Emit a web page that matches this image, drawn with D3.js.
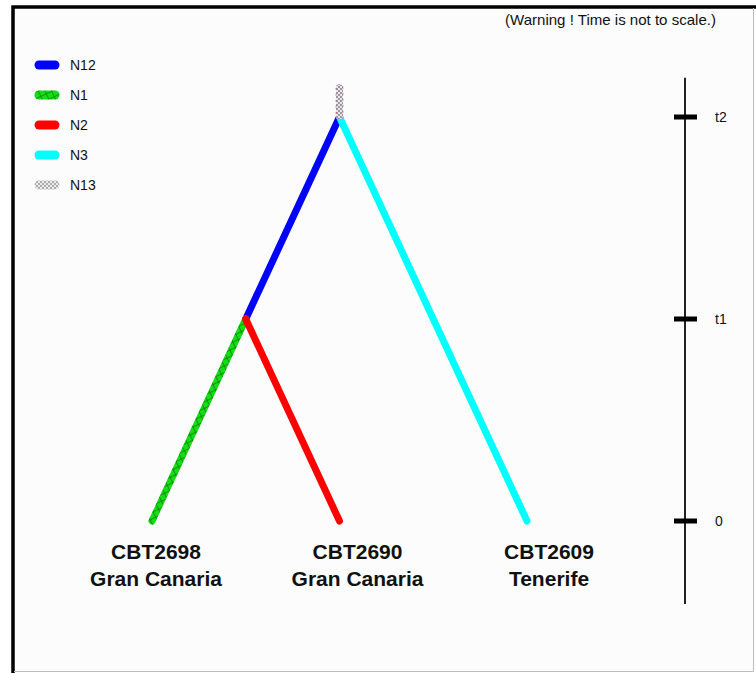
<html>
<head>
    <title>Tree</title>
    <script src="https://cdn.jsdelivr.net/npm/d3@7"></script>
    <style>
        body { margin: 0; background: #fff; }
        text { font-family: "Liberation Sans", Arial, sans-serif; }
    </style>
</head>
<body>
<div id="graph"></div>
<script>
    // data
    const leafNames = ["CBT2698", "CBT2690", "CBT2609"];
    const leafPlaces = ["Gran Canaria", "Gran Canaria", "Tenerife"];
    const branchNames = ["N12", "N1", "N2", "N3", "N13"];
    const branchColors = ["#0000ff", "#00e000", "#ff0000", "#00ffff", "checker"];
    const timeTicks = [0, 1, 2];
    const timeLabels = ["0", "t1", "t2"];
    const rootStubTop = 2.16;
    const warning = "(Warning ! Time is not to scale.)";

    // tree : N13 root -> (N12 -> N1, N2), N3
    const treeData = {
        name: "N13", time: 2, children: [
            {name: "N12", time: 1, children: [
                {name: "N1", time: 0, leaf: 0},
                {name: "N2", time: 0, leaf: 1}
            ]},
            {name: "N3", time: 0, leaf: 2}
        ]
    };

    const width = 756, height = 673;
    const svg = d3.select("#graph").append("svg")
        .attr("width", width).attr("height", height);

    const defs = svg.append("defs");
    // green crosshatch
    const hatch = defs.append("pattern")
        .attr("id", "hatch").attr("patternUnits", "userSpaceOnUse")
        .attr("width", 6).attr("height", 6)
        .attr("patternTransform", "rotate(-25)");
    hatch.append("rect").attr("width", 6).attr("height", 6).attr("fill", "#10e010");
    hatch.append("path").attr("d", "M0,0.5H6M0.5,0V6")
        .attr("stroke", "#1f5f1f").attr("stroke-width", 0.6);
    // grey checkers
    const checker = defs.append("pattern")
        .attr("id", "checker").attr("patternUnits", "userSpaceOnUse")
        .attr("width", 4).attr("height", 4);
    checker.append("rect").attr("width", 4).attr("height", 4).attr("fill", "#e8e8e8");
    checker.append("rect").attr("width", 2).attr("height", 2).attr("fill", "#999");
    checker.append("rect").attr("x", 2).attr("y", 2).attr("width", 2).attr("height", 2).attr("fill", "#999");

    const paint = c => c === "checker" ? "url(#checker)" : (c === "#00e000" ? "url(#hatch)" : c);
    const color = d3.scaleOrdinal().domain(branchNames).range(branchColors.map(paint));

    // frame
    svg.append("rect").attr("x", 13).attr("y", 7).attr("width", 740).attr("height", 664)
        .attr("fill", "#fcfcfc").attr("stroke", "none");
    svg.append("path").attr("d", "M13,673V7H756").attr("fill", "none")
        .attr("stroke", "#000").attr("stroke-width", 3.5);
    svg.append("path").attr("d", "M753.5,8V671.5H14").attr("fill", "none")
        .attr("stroke", "#bbb").attr("stroke-width", 1);

    svg.append("text").attr("x", 505).attr("y", 25)
        .attr("font-size", 15).attr("fill", "#111")
        .attr("textLength", 211).attr("lengthAdjust", "spacingAndGlyphs")
        .text(warning);

    // scales
    const x = d3.scaleLinear().domain([0, leafNames.length - 1]).range([152, 527]);
    const y = d3.scaleLinear().domain([0, 2]).range([521, 117]);

    const root = d3.hierarchy(treeData);
    root.eachAfter(d => {
        d.px = d.children ? d3.mean(d.leaves(), l => x(l.data.leaf)) : x(d.data.leaf);
        d.py = y(d.data.time);
    });

    // branches
    const g = svg.append("g").attr("fill", "none")
        .attr("stroke-width", 7).attr("stroke-linecap", "round");
    g.selectAll("line.branch")
        .data(root.links())
        .join("line")
        .attr("class", "branch")
        .attr("x1", d => d.source.px).attr("y1", d => d.source.py)
        .attr("x2", d => d.target.px).attr("y2", d => d.target.py)
        .attr("stroke", d => color(d.target.data.name));

    // root stub
    svg.append("rect")
        .attr("x", root.px - 3.5).attr("y", y(rootStubTop))
        .attr("width", 7).attr("height", root.py - y(rootStubTop) + 2)
        .attr("rx", 2)
        .attr("fill", color("N13"))
        .attr("stroke", "#e040e0").attr("stroke-width", 0.7)
        .attr("stroke-dasharray", "2,4");

    // leaf labels
    const labelShift = [4, 18, 22];
    const labels = svg.append("g").attr("font-size", 21).attr("font-weight", "bold")
        .attr("fill", "#111").attr("text-anchor", "middle");
    labels.selectAll("text.name").data(leafNames).join("text")
        .attr("x", (d, i) => x(i) + labelShift[i]).attr("y", 559).text(d => d);
    labels.selectAll("text.place").data(leafPlaces).join("text")
        .attr("x", (d, i) => x(i) + labelShift[i]).attr("y", 586).text(d => d);

    // time axis
    const ax = svg.append("g");
    ax.append("line").attr("x1", 685).attr("x2", 685)
        .attr("y1", y(rootStubTop) - 7).attr("y2", y(0) + 83)
        .attr("stroke", "#222").attr("stroke-width", 2);
    ax.selectAll("line.tick").data(timeTicks).join("line")
        .attr("x1", 674).attr("x2", 697)
        .attr("y1", d => y(d)).attr("y2", d => y(d))
        .attr("stroke", "#000").attr("stroke-width", 5);
    ax.selectAll("text").data(timeTicks).join("text")
        .attr("x", 715).attr("y", d => y(d)).attr("dy", "0.36em")
        .attr("font-size", 14).attr("fill", "#111")
        .text((d, i) => timeLabels[i]);

    // legend
    const leg = svg.append("g").selectAll("g").data(branchNames).join("g")
        .attr("transform", (d, i) => `translate(0,${65 + i * 30})`);
    leg.append("line").attr("x1", 39).attr("x2", 55)
        .attr("stroke", d => color(d)).attr("stroke-width", 9)
        .attr("stroke-linecap", "round")
        .attr("opacity", d => d === "N13" ? 0.8 : 1);
    leg.append("text").attr("x", 70).attr("dy", "0.36em")
        .attr("font-size", 14).attr("fill", "#111").text(d => d);
</script>
</body>
</html>
